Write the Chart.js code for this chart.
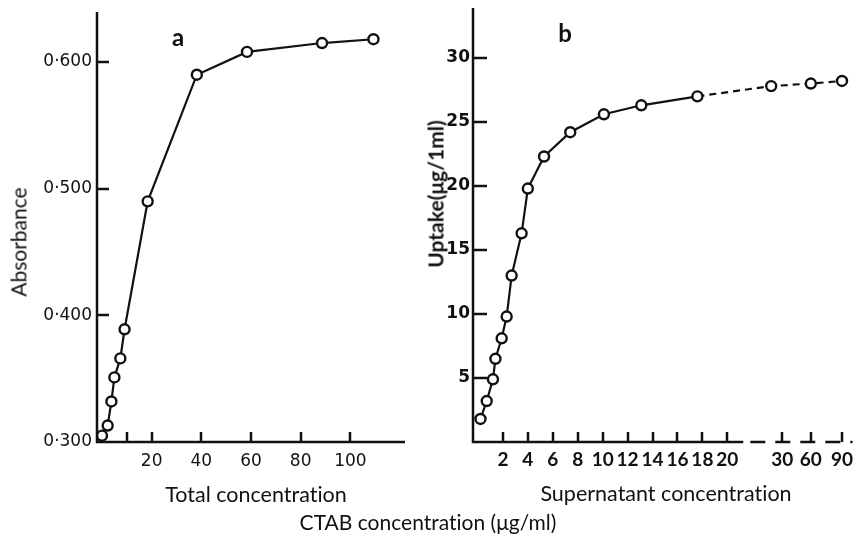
<!DOCTYPE html>
<html lang="en">
<head>
<meta charset="UTF-8">
<title>CTAB uptake</title>
<script src="https://cdn.jsdelivr.net/npm/chart.js"></script>
<style>
    body {
        margin: 0;
        width: 860px;
        height: 534px;
        overflow: hidden;
        background: #fff;
        position: relative;
        color: #111;
        font-family: Lato, sans-serif;
        font-variant-ligatures: none;
    }
    canvas { position: absolute; top: 0; }
    #chartA { left: 0; }
    #chartB { left: 430px; }
    .lbl {
        position: absolute;
        white-space: nowrap;
        transform: translate(-50%, -50%);
    }
    .rot { transform: translate(-50%, -50%) rotate(-90deg); }
</style>
</head>
<body>
<canvas id="chartA" width="430" height="534"></canvas>
<canvas id="chartB" width="430" height="534"></canvas>

<div class="lbl" style="left:178px; top:36px; font-size:24px; font-weight:bold;">a</div>
<div class="lbl" style="left:565px; top:32px; font-size:24px; font-weight:bold;">b</div>
<div class="lbl rot" style="left:18px; top:242px; font-size:21px;">Absorbance</div>
<div class="lbl rot" style="left:435px; top:194px; font-size:21px; font-weight:bold;">Uptake(μg/1ml)</div>
<div class="lbl" style="left:256px; top:494px; font-size:21.5px;">Total concentration</div>
<div class="lbl" style="left:666px; top:493px; font-size:21.5px;">Supernatant concentration</div>
<div class="lbl" style="left:428px; top:521px; font-size:21px;">CTAB concentration (μg/ml)</div>

<script>
// panel a: absorbance vs total CTAB concentration
var totalConc = [0, 2.3, 3.8, 5, 7.4, 9.1, 18.4, 38.2, 58.4, 88.6, 109.3];
var absorbance = [0.305, 0.313, 0.332, 0.351, 0.366, 0.389, 0.490, 0.590, 0.608, 0.615, 0.618];
var aXTicks = [10, 20, 40, 60, 80, 100];
var aXLabels = ['', '20', '40', '60', '80', '100'];
var aYTicks = [0.4, 0.5, 0.6];
var aYLabelTicks = [0.3, 0.4, 0.5, 0.6];
var aYLabels = ['0·300', '0·400', '0·500', '0·600'];

// panel b: uptake vs supernatant concentration
var superConc = [0.2, 0.7, 1.2, 1.4, 1.9, 2.3, 2.7, 3.5, 4.0, 5.3, 7.4, 10.1, 13.1, 17.6, 28, 60, 90];
var uptake = [1.8, 3.2, 4.9, 6.5, 8.1, 9.8, 13.0, 16.3, 19.8, 22.3, 24.2, 25.6, 26.3, 27.0, 27.8, 28.0, 28.2];
var bXTicks = [2, 4, 6, 8, 10, 12, 14, 16, 18, 20, 30, 60, 90];
var bXLabels = ['2', '4', '6', '8', '10', '12', '14', '16', '18', '20', '30', '60', '90'];
var bYTicks = [5, 10, 15, 20, 25, 30];
var bYLabels = ['5', '10', '15', '20', '25', '30'];
var dashFrom = 13; // line is dashed after the 17.6 point

var INK = '#111';

// broken x axis of panel b: 0-20 linear, then compressed 30 / 60 / 90
var breakVals = [0, 20, 30, 60, 90];
var breakPos = [0, 20, 24.4, 26.7, 29.2];
var B_MIN = -0.4, B_MAX = 30.05;

function squash(v) {
    if (v <= breakVals[0]) return v;
    for (var i = 1; i < breakVals.length; i++) {
        if (v <= breakVals[i]) {
            var t = (v - breakVals[i - 1]) / (breakVals[i] - breakVals[i - 1]);
            return breakPos[i - 1] + t * (breakPos[i] - breakPos[i - 1]);
        }
    }
    return breakPos[breakPos.length - 1];
}

class BrokenScale extends Chart.LinearScale {
    static id = 'broken';
    static defaults = {};
    determineDataLimits() {
        this.min = B_MIN;
        this.max = B_MAX;
    }
    getPixelForValue(v) {
        return super.getPixelForValue(squash(v));
    }
}
Chart.register(BrokenScale);

// axis lines drawn by hand: short ticks pointing into the plot, and for
// panel b the broken x axis (solid up to just past 20, dashed after)
function axisMarks(opt) {
    return {
        id: 'axisMarks' + opt.name,
        afterDraw: function(chart) {
            var ctx = chart.ctx, area = chart.chartArea;
            var xs = chart.scales.x, ys = chart.scales.y;
            var solidEnd = opt.broken ? xs.getPixelForValue(20) + 16 : area.right;
            ctx.save();
            ctx.strokeStyle = INK;
            ctx.lineWidth = 2.5;
            ctx.lineCap = 'butt';
            ctx.setLineDash([]);
            ctx.beginPath();
            // y axis and solid part of the x axis
            ctx.moveTo(area.left, area.top);
            ctx.lineTo(area.left, area.bottom);
            ctx.lineTo(solidEnd, area.bottom);
            // ticks
            opt.xTicks.forEach(function(v) {
                var px = Math.round(xs.getPixelForValue(v));
                ctx.moveTo(px, area.bottom);
                ctx.lineTo(px, area.bottom - opt.xLen);
            });
            opt.yTicks.forEach(function(v) {
                var py = Math.round(ys.getPixelForValue(v));
                ctx.moveTo(area.left, py);
                ctx.lineTo(area.left + opt.yLen, py);
            });
            ctx.stroke();
            if (opt.broken) {
                ctx.setLineDash([15, 10]);
                ctx.beginPath();
                ctx.moveTo(solidEnd + 7, area.bottom);
                ctx.lineTo(area.right, area.bottom);
                ctx.stroke();
            }
            ctx.restore();
        }
    };
}

function fixWidth(w) {
    return function(scale) {
        scale.width = w;
        scale.paddingTop = 0;
        scale.paddingBottom = 0;
    };
}
function fixHeight(h) {
    return function(scale) {
        scale.height = h;
        scale.paddingLeft = 0;
        scale.paddingRight = 0;
    };
}
function setTicks(values) {
    return function(scale) {
        scale.ticks = values.map(function(v) { return { value: v }; });
    };
}
function labelFrom(values, labels) {
    return function(value) {
        var i = values.indexOf(value);
        return i < 0 ? '' : labels[i];
    };
}

var noGrid = { display: false, drawTicks: false, tickLength: 0 };

var pointStyle = {
    borderColor: INK,
    borderWidth: 2.2,
    pointRadius: 5,
    pointBorderWidth: 2.4,
    pointBackgroundColor: '#fff',
    pointBorderColor: INK,
    fill: false,
    tension: 0
};

var common = {
    responsive: false,
    animation: false,
    devicePixelRatio: 1,
    events: []
};

new Chart(document.getElementById('chartA'), {
    type: 'line',
    data: {
        datasets: [Object.assign({
            data: totalConc.map(function(x, i) { return { x: x, y: absorbance[i] }; })
        }, pointStyle)]
    },
    options: Object.assign({}, common, {
        layout: { padding: { top: 12, right: 25, bottom: 0, left: 0 } },
        plugins: { legend: { display: false }, tooltip: { enabled: false } },
        scales: {
            x: {
                type: 'linear',
                min: -2,
                max: 122,
                afterFit: fixHeight(92),
                afterBuildTicks: setTicks(aXTicks),
                border: { display: false },
                grid: noGrid,
                ticks: {
                    padding: 9, autoSkip: false, maxRotation: 0, color: INK,
                    font: { family: 'DejaVu Sans', size: 17 },
                    callback: labelFrom(aXTicks, aXLabels)
                }
            },
            y: {
                type: 'linear',
                min: 0.3,
                max: 0.6395,
                afterFit: fixWidth(97),
                afterBuildTicks: setTicks(aYLabelTicks),
                border: { display: false },
                grid: noGrid,
                ticks: {
                    padding: 5, autoSkip: false, color: INK,
                    font: { family: 'DejaVu Sans', size: 17 },
                    callback: labelFrom(aYLabelTicks, aYLabels)
                }
            }
        }
    }),
    plugins: [axisMarks({ name: 'A', xTicks: aXTicks, yTicks: aYTicks, xLen: 10, yLen: 12, broken: false })]
});

new Chart(document.getElementById('chartB'), {
    type: 'line',
    data: {
        datasets: [Object.assign({
            data: superConc.map(function(x, i) { return { x: x, y: uptake[i] }; }),
            segment: {
                borderDash: function(ctx) { return ctx.p0DataIndex >= dashFrom ? [7, 5] : undefined; }
            }
        }, pointStyle)]
    },
    options: Object.assign({}, common, {
        layout: { padding: { top: 8, right: 5, bottom: 0, left: 0 } },
        plugins: { legend: { display: false }, tooltip: { enabled: false } },
        scales: {
            x: {
                type: 'broken',
                bounds: 'data',
                afterFit: fixHeight(92),
                afterBuildTicks: setTicks(bXTicks),
                border: { display: false },
                grid: noGrid,
                ticks: {
                    padding: 6, autoSkip: false, maxRotation: 0, color: INK,
                    font: { family: 'Lato', size: 19, weight: 'bold' },
                    callback: labelFrom(bXTicks, bXLabels)
                }
            },
            y: {
                type: 'linear',
                min: 0,
                max: 33.9,
                afterFit: fixWidth(43),
                afterBuildTicks: setTicks(bYTicks),
                border: { display: false },
                grid: noGrid,
                ticks: {
                    padding: 3, autoSkip: false, color: INK,
                    font: { family: 'DejaVu Sans', size: 17, weight: 'bold' },
                    callback: labelFrom(bYTicks, bYLabels)
                }
            }
        }
    }),
    plugins: [axisMarks({ name: 'B', xTicks: bXTicks, yTicks: bYTicks, xLen: 10, yLen: 14, broken: true })]
});
</script>
</body>
</html>
